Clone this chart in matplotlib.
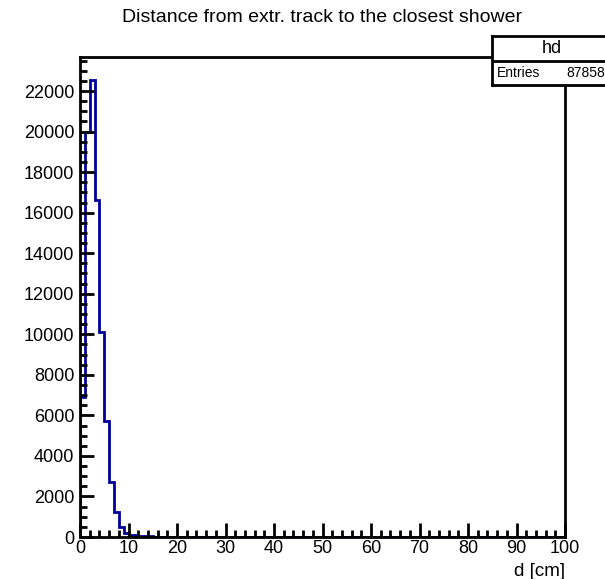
import matplotlib.pyplot as plt
import numpy as np
from matplotlib.ticker import MultipleLocator

plt.rcParams['font.family'] = ['Liberation Sans', 'DejaVu Sans']

# histogram "hd": 1 cm bins from 0 to 100
bin_edges = np.arange(0, 101, 1)
counts_head = [6900, 20000, 22550, 16600, 10100, 5700, 2720, 1250, 510, 180,
               120, 80, 60, 40, 30, 20]
counts = np.zeros(100)
counts[:len(counts_head)] = counts_head
n_entries = 87858

title = 'Distance from extr. track to the closest shower'
xlab = 'd [cm]'

fig = plt.figure(figsize=(6.05, 5.79), dpi=100)
ax = fig.add_axes([80 / 605, 1 - 537 / 579, 485 / 605, 480 / 579])

ax.stairs(counts, bin_edges, color='#000099', linewidth=2, baseline=0)
ax.set_xlim(0, 100)
ax.set_ylim(0, 1.05 * counts.max())

ax.xaxis.set_major_locator(MultipleLocator(10))
ax.xaxis.set_minor_locator(MultipleLocator(2))
ax.yaxis.set_major_locator(MultipleLocator(2000))
ax.yaxis.set_minor_locator(MultipleLocator(500))
ax.tick_params(which='both', direction='in', width=2, labelsize=13,
               top=False, right=False)
ax.tick_params(which='major', length=10)
ax.tick_params(which='minor', length=5)
ax.tick_params(axis='x', pad=2)
ax.tick_params(axis='y', pad=4)
for sp in ax.spines.values():
    sp.set_linewidth(2)

fig.text(565 / 605, 1 - 571 / 579, xlab, ha='right', va='center', fontsize=13.5)
fig.text(322 / 605, 1 - 18 / 579, title, ha='center', va='center', fontsize=14)

# stats box
sb = fig.add_axes([492 / 605, 1 - 85 / 579, 120 / 605, 49 / 579])
sb.set_xticks([])
sb.set_yticks([])
sb.set_xlim(0, 1)
sb.set_ylim(0, 1)
for sp in sb.spines.values():
    sp.set_linewidth(2)
sb.axhline(0.5, color='black', linewidth=2)
sb.text(0.5, 0.75, 'hd', ha='center', va='center', fontsize=13)
fig.text(497 / 605, 1 - 73 / 579, 'Entries', ha='left', va='center', fontsize=10)
fig.text(566 / 605, 1 - 73 / 579, str(n_entries), ha='left', va='center', fontsize=10)

fig.savefig('out.png', dpi=100)
